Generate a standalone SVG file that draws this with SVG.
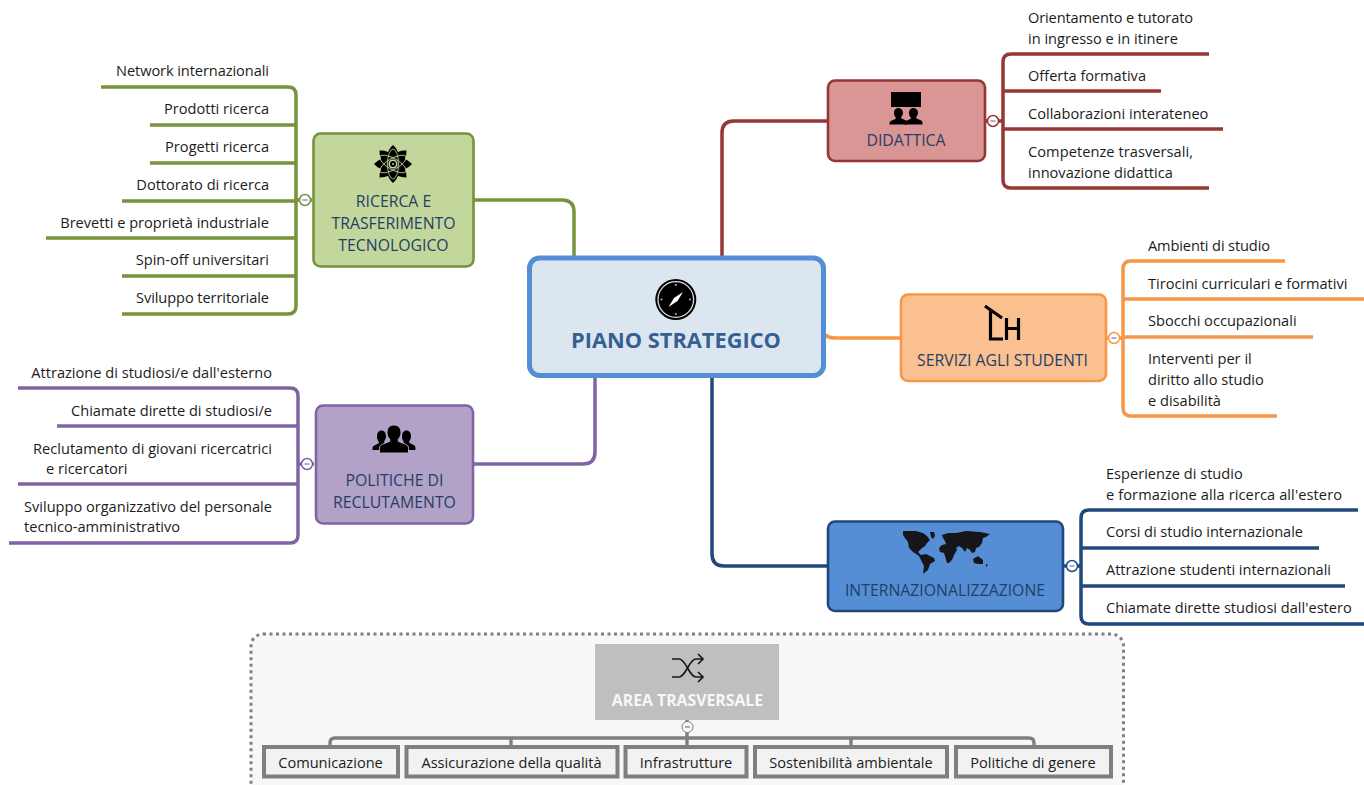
<svg xmlns="http://www.w3.org/2000/svg" width="1364" height="785" viewBox="0 0 1364 785">
<style>
text{font-family:"Open Sans","Noto Sans","Liberation Sans",sans-serif}
.l{font-size:14.6px;fill:#1c1c1c}
.e{text-anchor:end}
.t{font-size:15.8px;fill:#243f66;text-anchor:middle}
.c{fill:none;stroke-width:3.5;stroke-linejoin:round}
.n{stroke-width:2.6}
.k{fill:#fff;stroke-width:1.5}
.m{stroke:#8a93c8;stroke-width:1.5}
.b{fill:#f2f2f2;stroke:#7f7f7f;stroke-width:4}
.g{fill:none;stroke:#7f7f7f;stroke-width:3.4}
.i{fill:#000}
.red{stroke:#953735}.grn{stroke:#77933c}.org{stroke:#f79646}.pur{stroke:#8064a2}.nav{stroke:#1f497d}
</style>
<defs>
<g id="knob-minus"><line class="m" x1="-2.5" x2="2.500" y1="0" y2="0"/></g>
<path id="person" d="M0-9c3.300 0 5 2.500 5 5.200 0 2.300-1 4-2 5v1.300l5.500 2.500c1 .5 1.500 1.500 1.500 3v1.500H-10V8.500c0-1.500.5-2.500 1.500-3L-3 3V1.700c-1-1-2-2.700-2-5C-5-6.500-3.300-9 0-9z"/>
<path id="petal" d="M0-19C5-14 6.500-10 3.500-6.500H-3.500C-6.500-10-5-14 0-19Z"/>
</defs>

<g id="transversal-frame">
<rect x="251" y="634" width="872.500" height="175" rx="12" fill="#f7f7f7" stroke="#808080" stroke-width="3" stroke-dasharray="3 3.500"/>
</g>

<g id="connectors">
<path class="c grn" d="M574 256V212Q574 200 562 200H474"/>
<path class="c red" d="M722 256V133Q722 121 734 121H827"/>
<path class="c org" d="M825 335Q829 338 835 338H900"/>
<path class="c pur" d="M595 378V452Q595 464 583 464H474"/>
<path class="c nav" d="M712 378V554Q712 566 724 566H827"/>

<path class="c red" d="M1209 54H1011Q1003 54 1003 62V180Q1003 188 1011 188H1209M1003 91H1161M1003 129H1223M986 121H1003"/>
<path class="c grn" d="M101 87H288Q296 87 296 95V306Q296 314 288 314H122M150 125H296M150 163H296M122 201H296M46 238H296M122 276H296M296 200H312"/>
<path class="c pur" d="M18 388H290Q298 388 298 396V535Q298 543 290 543H9M57 426H298M18 484H298M298 464H314"/>
<path class="c org" d="M1285 261H1131Q1123 261 1123 269V408Q1123 416 1131 416H1277M1123 299H1364M1123 337H1313M1107 338H1123"/>
<path class="c nav" d="M1358 510H1089Q1081 510 1081 518V616Q1081 624 1089 624H1364M1081 548H1319M1081 586H1345M1064 566H1081"/>

<path class="g" d="M330 745V743Q330 738 335 738H1029Q1034 738 1034 743V745M511 738V745M687 720V745M851 738V745"/>
</g>

<g id="piano-strategico">
<rect x="529.500" y="258" width="294" height="117.500" rx="10" fill="#dce6f1" stroke="#558ed5" stroke-width="5"/>
<circle cx="675.800" cy="299.500" r="20.500" fill="#000"/>
<circle cx="675.800" cy="299.500" r="17.800" fill="none" stroke="#ddd" stroke-width="1.300"/>
<path d="M683 292L677.500 301L668.500 307L674 298Z" fill="#fff"/>
<g fill="#bbb"><circle cx="675.800" cy="285" r="1"/><circle cx="675.800" cy="314" r="1"/><circle cx="661.500" cy="299.500" r="1"/><circle cx="690" cy="299.500" r="1"/></g>
<text x="676" y="348" text-anchor="middle" font-size="21.800" font-weight="700" fill="#366092">PIANO STRATEGICO</text>
</g>

<g id="didattica">
<rect class="n" x="828" y="80.500" width="157" height="80.500" rx="7" fill="#d99694" stroke="#953735"/>
<rect class="i" x="891" y="92" width="30" height="15"/>
<use href="#person" class="i" transform="translate(898.500 116) scale(.9)"/>
<use href="#person" class="i" transform="translate(913.500 116) scale(.9)"/>
<text class="t" x="906" y="146">DIDATTICA</text>
<circle class="k red" cx="993" cy="121" r="5.500"/><use href="#knob-minus" x="993" y="121"/>
<text class="l" x="1028" y="23" textLength="165">Orientamento e tutorato</text>
<text class="l" x="1028" y="44">in ingresso e in itinere</text>
<text class="l" x="1028" y="81">Offerta formativa</text>
<text class="l" x="1028" y="119">Collaborazioni interateneo</text>
<text class="l" x="1028" y="157" textLength="165">Competenze trasversali,</text>
<text class="l" x="1028" y="178">innovazione didattica</text>
</g>

<g id="ricerca">
<rect class="n" x="313.500" y="133.500" width="160" height="133" rx="7" fill="#c3d69b" stroke="#77933c"/>
<g fill="#000" transform="translate(393 164)">
<use href="#petal"/>
<use href="#petal" transform="rotate(45)"/>
<use href="#petal" transform="rotate(90)"/>
<use href="#petal" transform="rotate(135)"/>
<use href="#petal" transform="rotate(180)"/>
<use href="#petal" transform="rotate(225)"/>
<use href="#petal" transform="rotate(270)"/>
<use href="#petal" transform="rotate(315)"/>
<circle r="9" fill="#111"/>
<g fill="none" stroke="#c3d69b" stroke-width=".8"><ellipse rx="15" ry="5.500" transform="rotate(30)"/><ellipse rx="15" ry="5.500" transform="rotate(90)"/><ellipse rx="15" ry="5.500" transform="rotate(150)"/></g>
<circle r="4.500" fill="#c3d69b"/><circle r="3" fill="#000"/><circle r="1" fill="#c3d69b"/>
</g>
<text class="t" x="393.500" y="207">RICERCA E</text>
<text class="t" x="393.500" y="229">TRASFERIMENTO</text>
<text class="t" x="393.500" y="251">TECNOLOGICO</text>
<circle class="k grn" cx="305" cy="200" r="5.500"/><use href="#knob-minus" x="305" y="200"/>
<text class="l e" x="269" y="76" textLength="153">Network internazionali</text>
<text class="l e" x="269" y="114">Prodotti ricerca</text>
<text class="l e" x="269" y="152" textLength="104">Progetti ricerca</text>
<text class="l e" x="269" y="190">Dottorato di ricerca</text>
<text class="l e" x="269" y="227.500">Brevetti e proprietà industriale</text>
<text class="l e" x="269" y="265">Spin-off universitari</text>
<text class="l e" x="269" y="303" textLength="133">Sviluppo territoriale</text>
</g>

<g id="servizi">
<rect class="n" x="901" y="294.500" width="205" height="86.500" rx="7" fill="#fac090" stroke="#f79646"/>
<path d="M985 306L1002 318M990.500 311V339H1003M1006.500 340V318M1018.500 340V318M1006.500 328.500H1018.500" fill="none" stroke="#000" stroke-width="3.200"/>
<text class="t" x="1002.500" y="365.500">SERVIZI AGLI STUDENTI</text>
<circle class="k org" cx="1114" cy="338" r="5.500"/><use href="#knob-minus" x="1114" y="338"/>
<text class="l" x="1148" y="251" textLength="122">Ambienti di studio</text>
<text class="l" x="1148" y="289">Tirocini curriculari e formativi</text>
<text class="l" x="1148" y="326">Sbocchi occupazionali</text>
<text class="l" x="1148" y="364">Interventi per il</text>
<text class="l" x="1148" y="385">diritto allo studio</text>
<text class="l" x="1148" y="405.500">e disabilità</text>
</g>

<g id="politiche">
<rect class="n" x="316" y="405.500" width="157" height="118" rx="7" fill="#b3a2c7" stroke="#8064a2"/>
<g class="i">
<use href="#person" transform="translate(381.500 440) scale(.9 1.050)"/>
<use href="#person" transform="translate(406.500 440) scale(.9 1.050)"/>
<path d="M394 425c4.500 0 7 3.500 7 7.500 0 3-1.200 5.300-2.800 6.800v2l7.500 3c1.800.8 2.800 2 2.800 4v4.700H379.500V448.300c0-2 1-3.200 2.800-4l7.500-3v-2c-1.600-1.500-2.800-3.800-2.800-6.800 0-4 2.500-7.500 7-7.500z" stroke="#b3a2c7" stroke-width="1"/>
</g>
<text class="t" x="394.500" y="486">POLITICHE DI</text>
<text class="t" x="394.500" y="508">RECLUTAMENTO</text>
<circle class="k pur" cx="307" cy="464" r="5.500"/><use href="#knob-minus" x="307" y="464"/>
<text class="l e" x="272" y="377.500">Attrazione di studiosi/e dall'esterno</text>
<text class="l e" x="272" y="415.500">Chiamate dirette di studiosi/e</text>
<text class="l e" x="272" y="453.500" textLength="239">Reclutamento di giovani ricercatrici</text>
<text class="l" x="46" y="473.500">e ricercatori</text>
<text class="l e" x="272" y="511.500" textLength="248">Sviluppo organizzativo del personale</text>
<text class="l" x="24" y="532">tecnico-amministrativo</text>
</g>

<g id="internazionalizzazione">
<rect class="n" x="828" y="521.500" width="235" height="89.500" rx="7" fill="#558ed5" stroke="#1f497d"/>
<g fill="#15151a">
<path d="M903 531L916 531L923 533L927 536L930 540L927 543L925 546L921 549L918 552L921 555L926 554L934 558L935 561L930 564L928 570L923 574L924 566L921 560L919 556L913 552L909 548L908 542L905 538L903 535Z"/>
<path d="M930 532L934 532L935 536L933 539L931 537Z"/>
<path d="M942 535L948 533L956 533L966 531L980 532L990 534L986 537L983 538L982 543L979 547L976 548L975 552L972 553L970 550L967 548L965 552L962 548L959 546L956 548L957 550L954 555L952 560L949 563L947 563L945 556L944 553L940 552L939 548L942 545L946 544L945 541L943 538Z"/>
<path d="M973 559L978 556L983 560L983 564L978 564L974 563Z"/>
<path d="M986 564L988 565L986 567Z"/>
</g>
<text class="t" x="945" y="595.500">INTERNAZIONALIZZAZIONE</text>
<circle class="k nav" cx="1072" cy="566" r="5.500"/><use href="#knob-minus" x="1072" y="566"/>
<text class="l" x="1106" y="479">Esperienze di studio</text>
<text class="l" x="1106" y="500" textLength="236">e formazione alla ricerca all'estero</text>
<text class="l" x="1106" y="537" textLength="197">Corsi di studio internazionale</text>
<text class="l" x="1106" y="575" textLength="225">Attrazione studenti internazionali</text>
<text class="l" x="1106" y="613">Chiamate dirette studiosi dall'estero</text>
</g>

<g id="area-trasversale">
<rect x="595" y="644" width="184" height="76" fill="#bfbfbf"/>
<path d="M672 659H679C686 659 689 677 696 677H703M672 677H679C686 677 689 659 696 659H703M698 654L703 659L698 664M698 672L703 677L698 682" fill="none" stroke="#1a1a1a" stroke-width="1.700"/>
<text x="687.500" y="705.500" text-anchor="middle" font-size="15.800" font-weight="700" fill="#f7f7f7">AREA TRASVERSALE</text>
<circle cx="687.500" cy="727" r="5.500" fill="#f7f7f7" stroke="#7f7f7f" stroke-width="1"/><use href="#knob-minus" x="687.500" y="727"/>
</g>
<g id="comunicazione"><rect class="b" x="264" y="747" width="134" height="29.500"/><text class="l" x="330.500" y="767.500" text-anchor="middle">Comunicazione</text></g>
<g id="assicurazione"><rect class="b" x="406.500" y="747" width="211" height="29.500"/><text class="l" x="511.500" y="767.500" text-anchor="middle">Assicurazione della qualità</text></g>
<g id="infrastrutture"><rect class="b" x="625.500" y="747" width="121" height="29.500"/><text class="l" x="686" y="767.500" text-anchor="middle">Infrastrutture</text></g>
<g id="sostenibilita"><rect class="b" x="755" y="747" width="192" height="29.500"/><text class="l" x="851" y="767.500" text-anchor="middle">Sostenibilità ambientale</text></g>
<g id="politiche-genere"><rect class="b" x="956" y="747" width="155" height="29.500"/><text class="l" x="1033" y="767.500" text-anchor="middle">Politiche di genere</text></g>
</svg>
